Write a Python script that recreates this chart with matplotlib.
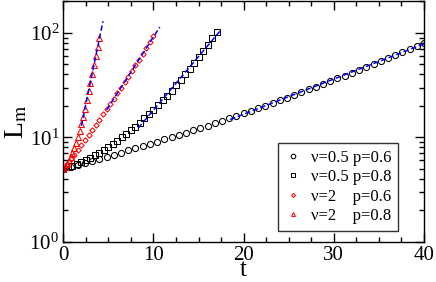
import matplotlib
matplotlib.use("Agg")
import matplotlib.pyplot as plt
import numpy as np
from matplotlib.ticker import MultipleLocator, LogLocator, LogFormatterMathtext, NullFormatter

plt.rcParams["font.family"] = ["Liberation Serif", "DejaVu Serif"]
plt.rcParams["mathtext.fontset"] = "stix"

# times and L_m
t_c = np.arange(0, 40.01, 0.8)
L_c = [5.00, 5.22, 5.45, 5.69, 5.95, 6.22, 6.51, 6.81, 7.14, 7.48, 7.84, 8.23, 8.64,
       9.07, 9.53, 10.02, 10.54, 11.09, 11.68, 12.31, 12.97, 13.68, 14.44, 15.25, 16.10,
       17.02, 18.00, 19.05, 20.16, 21.36, 22.63, 24.00, 25.46, 27.03, 28.71, 30.50, 32.42,
       34.49, 36.71, 39.09, 41.66, 44.41, 47.36, 50.54, 53.96, 57.66, 61.62, 65.9, 70.5,
       75.5, 80.9]
t_s = np.arange(0, 17.01, 0.5)
L_s = [5.00, 5.17, 5.36, 5.57, 5.81, 6.09, 6.40, 6.75, 7.14, 7.58, 8.08, 8.63, 9.26,
       9.97, 10.77, 11.67, 12.69, 13.85, 15.16, 16.66, 18.37, 20.32, 22.55, 25.12, 28.07,
       31.48, 35.42, 40.0, 45.33, 51.52, 58.79, 67.3, 77.3, 89.1, 103.0]
t_d = np.arange(0, 10.01, 0.4)
L_d = [5.00, 5.54, 6.15, 6.83, 7.60, 8.46, 9.43, 10.53, 11.77, 13.16, 14.75, 16.54,
       18.57, 20.87, 23.49, 26.46, 29.85, 33.71, 38.12, 43.15, 48.9, 55.5, 63.06, 71.7,
       81.7, 93.1]
t_t = np.arange(0, 4.01, 0.2)
L_t = [5.00, 5.24, 5.55, 5.94, 6.44, 7.06, 7.83, 8.79, 9.98, 11.46, 13.30, 15.63,
       18.58, 22.59, 27.48, 33.42, 40.64, 49.43, 60.12, 73.11, 88.92]

labels = ["\u03bd=0.5 p=0.6", "\u03bd=0.5 p=0.8", "\u03bd=2    p=0.6", "\u03bd=2    p=0.8"]
# fit windows for the dashed lines
fit_ranges = [(18.5, 40.0), (8.3, 17.4), (4.8, 10.7), (2.0, 4.4)]

fig = plt.figure(figsize=(4.36, 2.82), dpi=100)
ax = fig.add_axes([0.1452, 0.1429, 0.8273, 0.8518])

series = [(t_c, L_c, "o", "black", 4.4),
          (t_s, L_s, "s", "black", 3.8),
          (t_d, L_d, "D", "red", 2.7),
          (t_t, L_t, "^", "red", 3.7)]
for (t, L, m, c, ms), lab in zip(series, labels):
    ax.plot(t, L, ls="none", marker=m, ms=ms, mfc="none", mec=c, mew=0.75, label=lab)

for (t, L, m, c, ms), (a, b) in zip(series, fit_ranges):
    t = np.asarray(t)
    L = np.asarray(L)
    sel = t >= a
    p = np.polyfit(t[sel], np.log10(L[sel]), 1)
    tt = np.linspace(a, b, 50)
    ax.plot(tt, 10 ** np.polyval(p, tt), color="blue", lw=1.1, dashes=(3.5, 1.8))

ax.set_yscale("log")
ax.set_xlim(0, 40)
ax.set_ylim(1, 200)
ax.xaxis.set_major_locator(MultipleLocator(10))
ax.xaxis.set_minor_locator(MultipleLocator(2.5))
ax.yaxis.set_major_locator(LogLocator(base=10))
ax.yaxis.set_major_formatter(LogFormatterMathtext())
ax.yaxis.set_minor_locator(LogLocator(base=10, subs=np.arange(2, 10)))
ax.yaxis.set_minor_formatter(NullFormatter())
ax.tick_params(which="both", direction="in", top=True, right=True, width=1.0, labelsize=15)
ax.tick_params(which="major", length=6.5)
ax.tick_params(which="minor", length=3.8)
ax.tick_params(axis="x", pad=3)
ax.tick_params(axis="y", pad=3)
for s in ax.spines.values():
    s.set_linewidth(1.0)

ax.set_xlabel("t", fontsize=18, labelpad=-4)
ax.set_ylabel(r"L$_{\rm m}$", fontsize=20, labelpad=0)

leg = ax.legend(loc="lower right", bbox_to_anchor=(0.929, 0.046), borderaxespad=0,
                fontsize=12, numpoints=1, markerscale=0.75, handlelength=1.0,
                handletextpad=0.6, labelspacing=0.2, borderpad=0.4, fancybox=False,
                framealpha=1, edgecolor="#333333")
leg.get_frame().set_linewidth(1.0)

fig.savefig("out.png", dpi=100)
